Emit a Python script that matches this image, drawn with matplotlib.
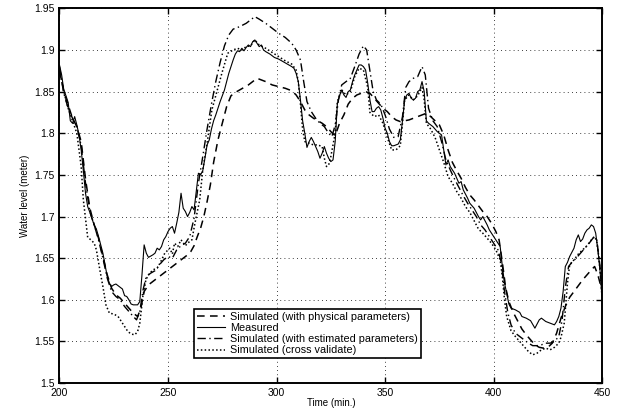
import numpy as np
import matplotlib
matplotlib.use('Agg')
import matplotlib.pyplot as plt

plt.rcParams['font.family'] = ['Liberation Sans', 'DejaVu Sans']

# measured water level (one reading a minute)
v_meas_pts = {
    200: 1.882, 201: 1.870, 202: 1.852, 203: 1.845, 204: 1.837, 205: 1.815, 206: 1.812, 207: 1.820,
    208: 1.810, 209: 1.798, 210: 1.780, 211: 1.755, 212: 1.728, 213: 1.712, 214: 1.705, 215: 1.697,
    216: 1.690, 217: 1.685, 218: 1.676, 219: 1.666, 220: 1.656, 221: 1.642, 222: 1.628, 223: 1.620,
    224: 1.616, 225: 1.618, 226: 1.619, 227: 1.617, 228: 1.615, 229: 1.613, 230: 1.605, 231: 1.604,
    232: 1.600, 233: 1.595, 234: 1.594, 235: 1.594, 236: 1.594, 237: 1.598, 238: 1.630, 239: 1.666,
    240: 1.656, 241: 1.651, 243: 1.654, 244: 1.656, 245: 1.662, 246: 1.660, 247: 1.664, 248: 1.672,
    249: 1.676, 250: 1.682, 251: 1.686, 252: 1.688, 253: 1.680, 254: 1.692, 255: 1.705, 256: 1.728,
    257: 1.710, 258: 1.706, 259: 1.700, 260: 1.705, 261: 1.712, 262: 1.708, 263: 1.730, 264: 1.752,
    265: 1.750, 266: 1.755, 267: 1.770, 268: 1.786, 269: 1.792, 270: 1.805, 271: 1.815, 272: 1.822,
    273: 1.830, 274: 1.838, 275: 1.845, 276: 1.852, 277: 1.862, 278: 1.872, 279: 1.880, 280: 1.888,
    281: 1.895, 282: 1.899, 283: 1.898, 284: 1.902, 285: 1.899, 286: 1.903, 287: 1.906, 288: 1.904,
    289: 1.910, 290: 1.912, 291: 1.908, 292: 1.904, 293: 1.906, 294: 1.900, 295: 1.898, 297: 1.895,
    299: 1.891, 301: 1.889, 303: 1.886, 305: 1.883, 307: 1.880, 308: 1.878, 309: 1.872, 310: 1.862,
    311: 1.840, 312: 1.815, 313: 1.800, 314: 1.783, 315: 1.790, 316: 1.795, 317: 1.790, 318: 1.784,
    319: 1.778, 320: 1.770, 321: 1.776, 322: 1.784, 323: 1.776, 324: 1.770, 325: 1.766, 326: 1.768,
    327: 1.790, 328: 1.835, 329: 1.845, 330: 1.852, 331: 1.846, 332: 1.843, 333: 1.850, 334: 1.852,
    335: 1.862, 336: 1.870, 337: 1.876, 338: 1.882, 339: 1.882, 340: 1.880, 341: 1.876, 342: 1.860,
    343: 1.840, 344: 1.826, 345: 1.826, 346: 1.830, 347: 1.832, 348: 1.828, 349: 1.818, 350: 1.806,
    351: 1.800, 352: 1.790, 353: 1.785, 354: 1.785, 355: 1.786, 356: 1.787, 357: 1.792, 358: 1.815,
    359: 1.840, 360: 1.846, 361: 1.848, 362: 1.842, 363: 1.840, 364: 1.842, 365: 1.850, 366: 1.852,
    367: 1.862, 368: 1.850, 369: 1.815, 370: 1.812, 372: 1.808, 374: 1.802, 376: 1.798, 377: 1.780,
    378: 1.762, 379: 1.768, 380: 1.760, 382: 1.752, 384: 1.740, 385: 1.742, 386: 1.732, 388: 1.722,
    389: 1.716, 391: 1.710, 393: 1.700, 394: 1.696, 395: 1.700, 397: 1.690, 398: 1.684, 400: 1.676,
    402: 1.668, 403: 1.664, 404: 1.640, 405: 1.620, 406: 1.608, 407: 1.595, 408: 1.590, 410: 1.588,
    412: 1.585, 413: 1.580, 415: 1.578, 417: 1.575, 419: 1.566, 421: 1.576, 422: 1.578, 424: 1.574,
    426: 1.572, 428: 1.570, 429: 1.574, 430: 1.580, 431: 1.590, 432: 1.610, 433: 1.640, 434: 1.645,
    435: 1.652, 436: 1.657, 437: 1.662, 438: 1.672, 439: 1.678, 440: 1.670, 441: 1.673, 442: 1.680,
    443: 1.684, 444: 1.686, 445: 1.690, 446: 1.688, 447: 1.680, 448: 1.660, 449: 1.635, 450: 1.600,
}
t_meas = np.array(list(v_meas_pts.keys()), dtype=float)
v_meas = np.array(list(v_meas_pts.values()))

# simulated, physical parameters
t_phys = [200, 202, 204, 206, 208, 210, 212, 214, 216, 218, 220, 222, 224, 226, 228, 230, 232, 234, 236,
          237.5, 239, 241, 243, 245, 247, 249, 251, 253, 255, 257, 259, 260.5, 262, 263.5, 265, 266.5, 268,
          269.5, 271, 273, 275, 277, 279, 281, 283, 285, 287, 289, 291, 293, 295, 298, 301, 304, 307, 309,
          311, 313, 315, 317, 319, 321, 323, 325, 327, 329, 331, 333, 335, 337, 339, 341, 343, 345, 347,
          349, 351, 353, 355, 357, 359, 361, 363, 365, 367, 369, 371, 373, 375, 377, 379, 381, 383, 385,
          387, 389, 391, 393, 395, 397, 399, 401, 402.5, 404, 405.5, 407, 409, 411, 413, 415, 417, 419,
          421, 423, 425, 427, 429, 431, 433, 435, 437, 439, 441, 443, 445, 446.5, 448, 449, 450]
v_phys = [1.875, 1.850, 1.834, 1.818, 1.808, 1.790, 1.745, 1.710, 1.690, 1.674, 1.652, 1.630, 1.614, 1.606,
          1.602, 1.596, 1.590, 1.584, 1.580, 1.590, 1.610, 1.618, 1.622, 1.626, 1.630, 1.634, 1.638, 1.642,
          1.646, 1.650, 1.654, 1.658, 1.665, 1.676, 1.686, 1.700, 1.718, 1.738, 1.765, 1.792, 1.812, 1.832,
          1.845, 1.849, 1.852, 1.855, 1.858, 1.862, 1.866, 1.864, 1.862, 1.858, 1.856, 1.854, 1.851, 1.846,
          1.838, 1.828, 1.822, 1.818, 1.815, 1.812, 1.808, 1.802, 1.797, 1.812, 1.822, 1.835, 1.842, 1.846,
          1.848, 1.850, 1.848, 1.842, 1.836, 1.830, 1.826, 1.820, 1.816, 1.814, 1.815, 1.816, 1.818, 1.820,
          1.822, 1.824, 1.820, 1.815, 1.810, 1.798, 1.780, 1.765, 1.755, 1.746, 1.735, 1.726, 1.720, 1.713,
          1.706, 1.700, 1.692, 1.682, 1.672, 1.645, 1.615, 1.598, 1.585, 1.575, 1.565, 1.558, 1.552, 1.546,
          1.543, 1.542, 1.543, 1.548, 1.560, 1.578, 1.592, 1.603, 1.610, 1.617, 1.624, 1.630, 1.636, 1.640,
          1.630, 1.620, 1.610]

# simulated, estimated parameters
t_est = [200, 202, 204, 206, 208, 210, 212, 214, 216, 218, 220, 222, 224, 226, 228, 230, 232, 234, 235.5,
         237, 238.5, 240, 242, 244, 246, 248, 250, 252, 254, 256, 258, 260, 262, 264, 266, 268, 270, 272,
         274, 276, 278, 280, 283, 286, 288, 290, 292, 295, 298, 301, 304, 307, 309, 311, 312.5, 314, 316,
         318, 320, 322, 324, 325.5, 327, 328.5, 330, 332, 334, 336, 338, 340, 341.5, 343, 344.5, 346, 348,
         350, 352, 354, 356, 358, 359.5, 361, 363, 365, 367, 368.5, 370, 372, 374, 376, 378, 380, 382, 384,
         386, 388, 390, 392, 394, 396, 398, 400, 402, 403.5, 405, 406.5, 408, 410, 412, 414, 416, 418, 420,
         422, 424, 426, 428, 430, 431.5, 433, 434.5, 436, 438, 440, 442, 444, 446, 447.5, 449, 450]
v_est = [1.880, 1.848, 1.830, 1.818, 1.808, 1.785, 1.740, 1.706, 1.690, 1.672, 1.650, 1.626, 1.610, 1.604,
         1.600, 1.592, 1.586, 1.580, 1.576, 1.586, 1.612, 1.628, 1.632, 1.635, 1.642, 1.648, 1.652, 1.650,
         1.660, 1.665, 1.668, 1.676, 1.698, 1.740, 1.772, 1.805, 1.835, 1.862, 1.885, 1.905, 1.918, 1.925,
         1.928, 1.932, 1.936, 1.940, 1.937, 1.932, 1.926, 1.920, 1.915, 1.908, 1.900, 1.888, 1.862, 1.838,
         1.826, 1.818, 1.812, 1.808, 1.800, 1.796, 1.810, 1.840, 1.858, 1.862, 1.866, 1.880, 1.895, 1.905,
         1.900, 1.875, 1.850, 1.840, 1.835, 1.822, 1.805, 1.795, 1.796, 1.820, 1.855, 1.862, 1.866, 1.868,
         1.880, 1.870, 1.830, 1.815, 1.808, 1.790, 1.768, 1.756, 1.745, 1.735, 1.725, 1.716, 1.708, 1.700,
         1.690, 1.684, 1.676, 1.668, 1.660, 1.645, 1.610, 1.585, 1.570, 1.560, 1.556, 1.552, 1.548, 1.545,
         1.545, 1.546, 1.548, 1.548, 1.550, 1.556, 1.575, 1.615, 1.640, 1.645, 1.650, 1.656, 1.662, 1.668,
         1.675, 1.672, 1.640, 1.615]

# simulated, cross validation
t_cv = [200, 202, 204, 206, 208, 210, 211, 212, 213, 214.5, 216, 217, 218.6, 220, 221.4, 223, 225, 227,
        229, 231.5, 233, 234.7, 236, 237, 238.4, 239.8, 241, 243, 245, 246.5, 248.5, 250.8, 252, 253,
        254.5, 256, 258, 259, 261, 262.4, 264.6, 266, 268, 270.2, 272.5, 274.8, 277.5, 280, 282, 284, 286,
        288, 290, 292, 295, 298, 301, 304, 307, 309, 310, 311, 312, 313, 315, 317, 319, 321, 322, 323, 324,
        325, 327, 328, 330, 332, 334, 336, 338, 340, 342, 343, 345, 347, 349, 351, 353, 355, 357, 358, 359,
        361, 363, 365, 367, 368, 369, 371, 373, 375, 377, 379, 381, 383, 385, 387, 389, 391, 393, 395, 397,
        399, 401, 403, 404, 405, 406, 408, 410, 412, 414, 416, 418, 420, 422, 424, 426, 428, 430, 431,
        432.5, 434, 435, 437, 439, 441, 443, 445, 446.5, 447.5, 448.5, 449.3, 450]
v_cv = [1.875, 1.850, 1.830, 1.815, 1.800, 1.760, 1.720, 1.698, 1.675, 1.672, 1.668, 1.660, 1.636, 1.616,
        1.594, 1.584, 1.583, 1.580, 1.572, 1.562, 1.559, 1.558, 1.562, 1.572, 1.604, 1.624, 1.630, 1.636,
        1.638, 1.645, 1.656, 1.662, 1.655, 1.668, 1.664, 1.672, 1.665, 1.668, 1.672, 1.692, 1.720, 1.756,
        1.788, 1.828, 1.850, 1.872, 1.896, 1.900, 1.902, 1.900, 1.904, 1.905, 1.912, 1.906, 1.902, 1.897,
        1.892, 1.887, 1.883, 1.876, 1.862, 1.835, 1.805, 1.790, 1.788, 1.786, 1.786, 1.784, 1.770, 1.760,
        1.762, 1.772, 1.800, 1.838, 1.852, 1.846, 1.850, 1.868, 1.878, 1.876, 1.855, 1.825, 1.820, 1.822,
        1.812, 1.795, 1.780, 1.780, 1.785, 1.812, 1.840, 1.846, 1.840, 1.845, 1.855, 1.840, 1.812, 1.805,
        1.795, 1.780, 1.765, 1.748, 1.740, 1.730, 1.722, 1.712, 1.705, 1.695, 1.685, 1.680, 1.674, 1.668,
        1.660, 1.648, 1.628, 1.600, 1.580, 1.563, 1.556, 1.550, 1.544, 1.538, 1.534, 1.536, 1.540, 1.542,
        1.540, 1.543, 1.548, 1.555, 1.572, 1.620, 1.642, 1.648, 1.655, 1.660, 1.665, 1.672, 1.676, 1.670,
        1.650, 1.625, 1.600]

x_ticks = [200, 250, 300, 350, 400, 450]
y_ticks = [1.5, 1.55, 1.6, 1.65, 1.7, 1.75, 1.8, 1.85, 1.9, 1.95]
y_tick_labels = ['1.5', '1.55', '1.6', '1.65', '1.7', '1.75', '1.8', '1.85', '1.9', '1.95']

fig = plt.figure(figsize=(6.26, 4.16), dpi=100)
ax = fig.add_axes([0.095, 0.079, 0.867, 0.901])

ax.plot(t_phys, v_phys, color='black', lw=1.1, linestyle=(0, (5, 3.5)), label='Simulated (with physical parameters)')
ax.plot(t_meas, v_meas, color='black', lw=0.8, linestyle='-', label='Measured')
ax.plot(t_est, v_est, color='black', lw=1.0, linestyle=(0, (6, 2.5, 1, 2.5)), label='Simulated (with estimated parameters)')
ax.plot(t_cv, v_cv, color='black', lw=1.1, linestyle=(0, (1, 1.5)), label='Simulated (cross validate)')

ax.set_xlim(200, 450)
ax.set_ylim(1.5, 1.95)
ax.set_xticks(x_ticks)
ax.set_yticks(y_ticks)
ax.set_yticklabels(y_tick_labels)
ax.tick_params(direction='in', labelsize=7.5, length=4, width=1, top=True, right=True)
ax.grid(True, color='black', linestyle=(0, (1, 4)), linewidth=0.6)
for s in ax.spines.values():
    s.set_linewidth(1.4)

ax.set_xlabel('Time (min.)', fontsize=7, labelpad=0)
ax.set_ylabel('Water level (meter)', fontsize=7, labelpad=3)

leg = ax.legend(loc='lower left', bbox_to_anchor=(0.248, 0.067), fontsize=7.8, frameon=True,
                fancybox=False, framealpha=1, edgecolor='black', borderpad=0.25, labelspacing=0.1,
                handlelength=2.6, handletextpad=0.5, borderaxespad=0)
leg.get_frame().set_linewidth(1.2)

fig.savefig('out.png', dpi=100)
